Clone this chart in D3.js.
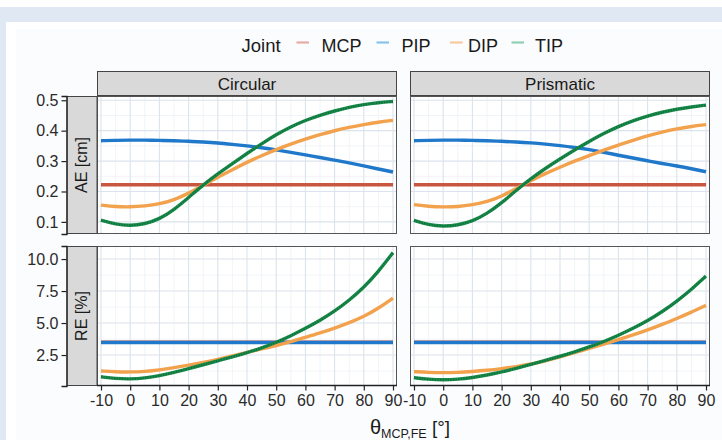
<!DOCTYPE html>
<html><head><meta charset="utf-8">
<script src="https://cdn.jsdelivr.net/npm/d3@7"></script>
<style>html,body{margin:0;padding:0;background:#fff;}svg{display:block;font-family:"Liberation Sans",Arial,Helvetica,sans-serif;}</style>
</head><body>
<svg id="c" width="722" height="440"></svg>
<script>
// ---------- data ----------
const angles = [-10,-5,0,5,10,15,20,25,30,35,40,45,50,55,60,65,70,75,80,85,90];
const joints = ["MCP","PIP","DIP","TIP"];
const facets = ["Circular","Prismatic"];
const xTicks = [-10,0,10,20,30,40,50,60,70,80,90];
const aeTicks = [0.1,0.2,0.3,0.4,0.5];
const reTicks = [2.5,5.0,7.5,10.0];

// AE [cm], Circular
const aeCircMCP = angles.map(()=>0.222);
const aeCircPIP = [0.367,0.368,0.369,0.369,0.368,0.367,0.365,0.363,0.360,0.355,0.350,0.344,0.337,0.329,0.320,0.312,0.303,0.294,0.284,0.274,0.264];
const aeCircDIP = [0.155,0.150,0.149,0.152,0.159,0.172,0.194,0.220,0.247,0.272,0.296,0.318,0.338,0.356,0.372,0.387,0.400,0.411,0.420,0.428,0.434];
const aeCircTIP = [0.106,0.092,0.087,0.093,0.109,0.140,0.180,0.222,0.258,0.292,0.325,0.357,0.387,0.413,0.434,0.451,0.465,0.477,0.486,0.492,0.496];
// AE [cm], Prismatic
const aePrisMCP = angles.map(()=>0.222);
const aePrisPIP = [0.367,0.368,0.369,0.369,0.368,0.367,0.365,0.363,0.360,0.356,0.351,0.345,0.338,0.329,0.319,0.310,0.301,0.292,0.284,0.275,0.265];
const aePrisDIP = [0.157,0.151,0.149,0.150,0.156,0.166,0.184,0.210,0.236,0.259,0.280,0.300,0.318,0.336,0.353,0.368,0.383,0.396,0.406,0.414,0.420];
const aePrisTIP = [0.105,0.090,0.085,0.089,0.102,0.127,0.162,0.204,0.242,0.276,0.307,0.337,0.365,0.391,0.414,0.433,0.448,0.461,0.471,0.478,0.484];
// RE [%], Circular
const reCircMCP = angles.map(()=>3.51);
const reCircPIP = angles.map(()=>3.48);
const reCircDIP = [1.25,1.19,1.17,1.21,1.33,1.51,1.71,1.93,2.16,2.42,2.70,2.98,3.24,3.54,3.88,4.22,4.60,5.02,5.50,6.15,6.95];
const reCircTIP = [0.80,0.66,0.62,0.70,0.88,1.14,1.44,1.74,2.05,2.36,2.68,3.05,3.49,4.00,4.58,5.20,5.92,6.78,7.78,9.02,10.50];
// RE [%], Prismatic
const rePrisMCP = angles.map(()=>3.51);
const rePrisPIP = angles.map(()=>3.48);
const rePrisDIP = [1.20,1.14,1.12,1.14,1.21,1.30,1.43,1.59,1.79,2.04,2.35,2.68,3.02,3.35,3.70,4.06,4.46,4.90,5.35,5.85,6.38];
const rePrisTIP = [0.73,0.60,0.55,0.60,0.74,0.93,1.17,1.45,1.76,2.08,2.40,2.75,3.12,3.55,4.04,4.58,5.18,5.88,6.70,7.62,8.67];

const rows = [
  {label:"AE [cm]", ticks:aeTicks, fmt:d3.format(".1f"), domain:[0.0602,0.514],
   data:{Circular:[aeCircMCP,aeCircPIP,aeCircDIP,aeCircTIP], Prismatic:[aePrisMCP,aePrisPIP,aePrisDIP,aePrisTIP]}},
  {label:"RE [%]", ticks:reTicks, fmt:d3.format(".1f"), domain:[0.08,11.02],
   data:{Circular:[reCircMCP,reCircPIP,reCircDIP,reCircTIP], Prismatic:[rePrisMCP,rePrisPIP,rePrisDIP,rePrisTIP]}}
];

// ---------- styles ----------
const lineColor = {MCP:"#c9573f", PIP:"#1f78c9", DIP:"#f2a14d", TIP:"#1b8d4d"};
const keyColor  = {MCP:"#e6aca6", PIP:"#88c3ea", DIP:"#f7c99c", TIP:"#90cfb1"};

const svg = d3.select("#c");
// backgrounds
svg.append("rect").attr("width",722).attr("height",440).attr("fill","#ffffff");
svg.append("rect").attr("x",0).attr("y",7).attr("width",722).attr("height",433).attr("fill","#e0e8f4");
svg.append("rect").attr("x",6).attr("y",22).attr("width",716).attr("height",418).attr("fill","#ffffff");
svg.append("rect").attr("x",16).attr("y",29).attr("width",706).attr("height",411).attr("fill","#fbfcfe");

const panelX = [[97,397],[410,710]];
const panelY = [[96,234],[246,386]];

const x = panelX.map(r => d3.scaleLinear().domain([-11.37,91.37]).range(r));
const y = rows.map((row,i) => d3.scaleLinear().domain(row.domain).range([panelY[i][1],panelY[i][0]]));

const minorX = d3.range(-5,90,10);

rows.forEach((row,ri)=>{
  const ys = y[ri];
  const t = row.ticks;
  const step = t[1]-t[0];
  const minorY = [];
  for (let v = t[0]-step/2; v <= row.domain[1]; v += step) if (v >= row.domain[0]) minorY.push(v);
  facets.forEach((f,fi)=>{
    const xs = x[fi];
    const g = svg.append("g");
    const [x0,x1] = panelX[fi], [y0,y1] = panelY[ri];
    g.append("rect").attr("x",x0).attr("y",y0).attr("width",x1-x0).attr("height",y1-y0).attr("fill","#ffffff");
    // minor grid
    g.selectAll(".mx").data(minorX).join("line")
      .attr("x1",d=>xs(d)).attr("x2",d=>xs(d)).attr("y1",y0).attr("y2",y1)
      .attr("stroke","#edf1f6").attr("stroke-width",0.8);
    g.selectAll(".my").data(minorY).join("line")
      .attr("y1",d=>ys(d)).attr("y2",d=>ys(d)).attr("x1",x0).attr("x2",x1)
      .attr("stroke","#edf1f6").attr("stroke-width",0.8);
    // major grid
    g.selectAll(".Mx").data(xTicks).join("line")
      .attr("x1",d=>xs(d)).attr("x2",d=>xs(d)).attr("y1",y0).attr("y2",y1)
      .attr("stroke","#dbe3ec").attr("stroke-width",1.1);
    g.selectAll(".My").data(t).join("line")
      .attr("y1",d=>ys(d)).attr("y2",d=>ys(d)).attr("x1",x0).attr("x2",x1)
      .attr("stroke","#dbe3ec").attr("stroke-width",1.1);
    // lines
    const line = d3.line().x((d,i)=>xs(angles[i])).y(d=>ys(d)).curve(d3.curveBasis);
    row.data[f].forEach((vals,ji)=>{
      const j = joints[ji];
      g.append("path").attr("d",line(vals)).attr("fill","none")
        .attr("stroke",lineColor[j]).attr("stroke-width",3.4);
      if (j==="TIP") {
        g.append("path").attr("d",line(vals)).attr("fill","none")
          .attr("stroke","#0c6a36").attr("stroke-width",2.2).attr("stroke-dasharray","1.3 1.3").attr("opacity",0.8);
      }
    });
    // border
    g.append("rect").attr("x",x0+0.5).attr("y",y0+0.5).attr("width",x1-x0-1).attr("height",y1-y0-1)
      .attr("fill","none").attr("stroke","#555").attr("stroke-width",1);
  });
  // left strip
  const [y0,y1] = panelY[ri];
  svg.append("rect").attr("x",67).attr("y",y0+0.5).attr("width",30).attr("height",y1-y0-1)
    .attr("fill","#d9d9d9").attr("stroke","#444").attr("stroke-width",1);
  svg.append("text").attr("transform",`translate(${87},${(y0+y1)/2}) rotate(-90)`)
    .attr("text-anchor","middle").attr("font-size",16).attr("fill","#1a1a1a").text(row.label);
  // y axis
  const ax = svg.append("g").attr("transform","translate(66.5,0)")
    .call(d3.axisLeft(ys).tickValues(row.ticks).tickFormat(row.fmt).tickSize(5).tickPadding(3));
  ax.select(".domain").attr("stroke","#222").attr("stroke-width",1.3);
  ax.selectAll(".tick line").attr("stroke","#222").attr("stroke-width",1.2);
  ax.selectAll("text").attr("font-size",16).attr("fill","#2a2a2a").attr("font-family","Liberation Sans, Arial, sans-serif");
});

// top strips
facets.forEach((f,fi)=>{
  const [x0,x1] = panelX[fi];
  svg.append("rect").attr("x",x0+0.5).attr("y",71.5).attr("width",x1-x0-1).attr("height",24)
    .attr("fill","#d9d9d9").attr("stroke","#444").attr("stroke-width",1);
  svg.append("text").attr("x",(x0+x1)/2).attr("y",89.5).attr("text-anchor","middle")
    .attr("font-size",17).attr("fill","#1a1a1a").text(f);
  // x axis at bottom
  const ax = svg.append("g").attr("transform",`translate(0,${panelY[1][1]-0.5})`)
    .call(d3.axisBottom(x[fi]).tickValues(xTicks).tickFormat(d3.format("d")).tickSize(5).tickPadding(4));
  ax.select(".domain").attr("stroke","#222").attr("stroke-width",1.3).attr("d",`M${x0},0H${x1}`);
  ax.selectAll(".tick line").attr("stroke","#222").attr("stroke-width",1.2);
  ax.selectAll("text").attr("font-size",16).attr("fill","#2a2a2a").attr("font-family","Liberation Sans, Arial, sans-serif")
    .text(d=> d<0 ? "-"+Math.abs(d) : d);
});

// x axis title
const tt = svg.append("text").attr("x",410).attr("y",434).attr("text-anchor","middle").attr("fill","#1a1a1a");
tt.append("tspan").attr("font-size",20).text("θ");
tt.append("tspan").attr("font-size",12.5).attr("dy",4).text("MCP,FE");
tt.append("tspan").attr("font-size",19).attr("dy",-4).text(" [°]");

// legend
const legend = svg.append("g");
legend.append("text").attr("x",241.5).attr("y",51.5).attr("font-size",18.5).attr("fill","#1a1a1a").text("Joint");
const keyX = [296.5,376.5,450,511.5];
const labX = [321.5,401.5,468,535];
joints.forEach((j,i)=>{
  legend.append("line").attr("x1",keyX[i]).attr("x2",keyX[i]+12.5).attr("y1",42.5).attr("y2",42.5)
    .attr("stroke",keyColor[j]).attr("stroke-width",2.2);
  legend.append("text").attr("x",labX[i]).attr("y",51.5).attr("font-size",18).attr("fill","#1a1a1a").text(j);
});
</script>
</body></html>
